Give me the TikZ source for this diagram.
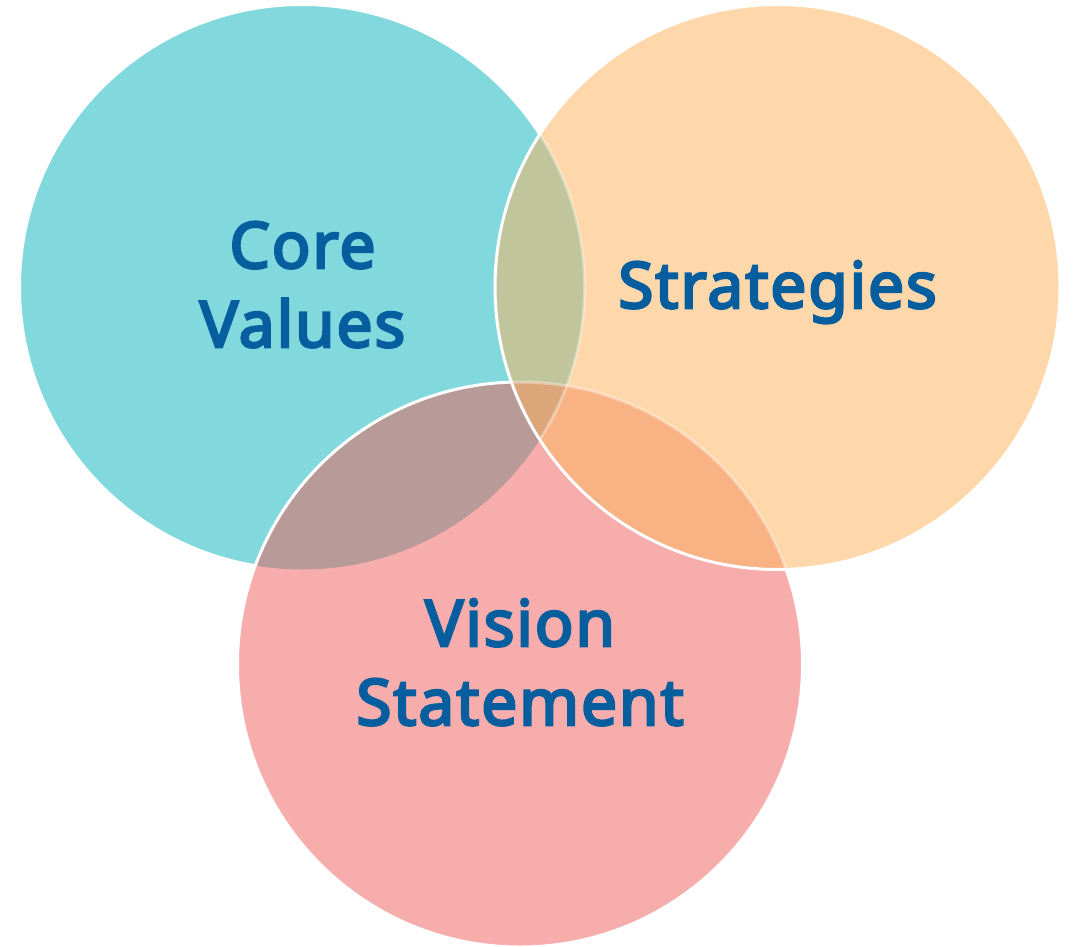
\documentclass[tikz,border=0pt]{standalone}
\usepackage{fontspec}
\newfontfamily\lblfont{Noto Sans}[FakeBold=4, LetterSpace=3]
\definecolor{tealc}{HTML}{82D9DD}
\definecolor{orangec}{HTML}{FED8AA}
\definecolor{pinkc}{HTML}{F7ADAC}
\definecolor{olivec}{HTML}{C0C59C}
\definecolor{mauvec}{HTML}{B89A99}
\definecolor{salmonc}{HTML}{F9B283}
\definecolor{centerc}{HTML}{DBA77A}
\definecolor{textblue}{HTML}{065E9F}
\tikzset{
  lbl/.style={font=\lblfont\fontsize{64}{79}\selectfont, text=textblue, align=center, inner sep=0pt, anchor=base},
  rim/.style={draw=white, line width=3pt},
  faintrim/.style={draw=white, draw opacity=0.35, line width=3pt}
}
\begin{document}
\begin{tikzpicture}[x=1pt,y=-1pt]
\useasboundingbox (0,0) rectangle (1073,947);
\coordinate (cv) at (302,287);
\coordinate (st) at (777.5,287);
\coordinate (vs) at (520,664.5);
\def\R{282.5pt}
% layer 1: teal
\fill[tealc] (cv) circle[radius=\R];
\draw[rim] (cv) circle[radius=\R];
% layer 2: pink
\begin{scope}
  \clip (vs) circle[radius=\R];
  \fill[pinkc] (vs) circle[radius=\R];
  \clip (cv) circle[radius=\R];
  \fill[mauvec] (vs) circle[radius=\R];
\end{scope}
\draw[rim] (vs) circle[radius=\R];
% layer 3: orange
\begin{scope}
  \clip (st) circle[radius=\R];
  \fill[orangec] (st) circle[radius=\R];
  \begin{scope}
    \clip (cv) circle[radius=\R];
    \fill[olivec] (st) circle[radius=\R];
  \end{scope}
  \begin{scope}
    \clip (vs) circle[radius=\R];
    \fill[salmonc] (st) circle[radius=\R];
    \clip (cv) circle[radius=\R];
    \fill[centerc] (st) circle[radius=\R];
  \end{scope}
  \draw[faintrim] (cv) circle[radius=\R];
  \draw[faintrim] (vs) circle[radius=\R];
\end{scope}
\draw[rim] (st) circle[radius=\R];
% labels
\node[lbl] (corevalues) at (302.5,347) {Core\\Values};
\node[lbl] (strategies) at (777.5,308) {Strategies};
\node[lbl] (vision) at (520,725) {Vision\\Statement};
\end{tikzpicture}
\end{document}
